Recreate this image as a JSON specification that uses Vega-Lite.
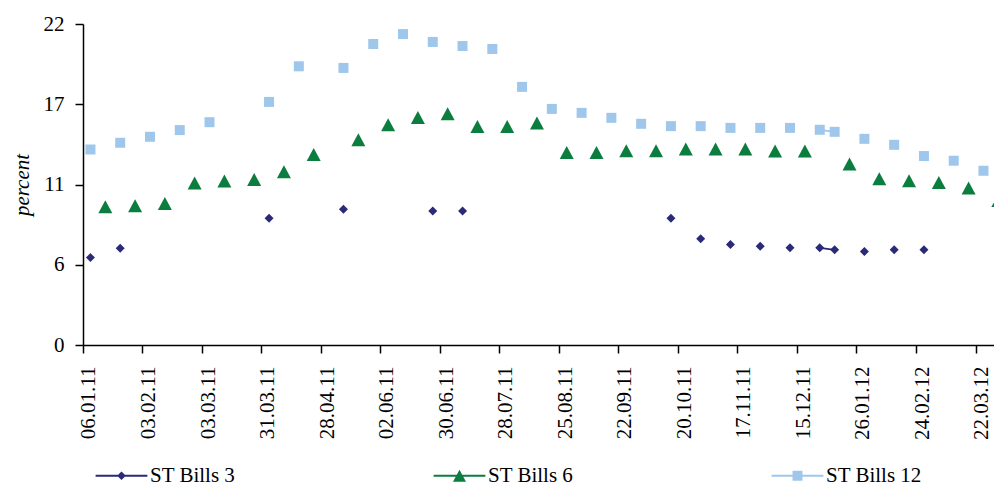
{
  "$schema": "https://vega.github.io/schema/vega-lite/v6.json",
  "width": 911,
  "height": 321,
  "autosize": {"type": "none"},
  "padding": {"left": 83, "top": 24, "right": 0, "bottom": 139},
  "background": "white",
  "config": {
    "view": {"stroke": null},
    "font": "Liberation Serif",
    "axis": {
      "grid": false,
      "domainColor": "black",
      "domainWidth": 1.5,
      "tickColor": "black",
      "tickWidth": 1.5,
      "tickSize": 8,
      "labelColor": "black",
      "labelFont": "Liberation Serif",
      "labelFontSize": 21,
      "labelOverlap": false,
      "labelBound": false,
      "labelFlush": false,
      "titleColor": "black",
      "titleFont": "Liberation Serif"
    }
  },
  "data": {
    "values": [
      {"date": "06.01.11", "ST Bills 3": 5.99, "ST Bills 12": 13.4},
      {"date": "13.01.11", "ST Bills 6": 9.47},
      {"date": "20.01.11", "ST Bills 3": 6.63, "ST Bills 12": 13.86},
      {"date": "27.01.11", "ST Bills 6": 9.55},
      {"date": "03.02.11", "ST Bills 12": 14.27},
      {"date": "10.02.11", "ST Bills 6": 9.69},
      {"date": "17.02.11", "ST Bills 12": 14.73},
      {"date": "24.02.11", "ST Bills 6": 11.1},
      {"date": "03.03.11", "ST Bills 12": 15.27},
      {"date": "10.03.11", "ST Bills 6": 11.24},
      {"date": "17.03.11"},
      {"date": "24.03.11", "ST Bills 6": 11.35},
      {"date": "31.03.11", "ST Bills 3": 8.69, "ST Bills 12": 16.66},
      {"date": "07.04.11", "ST Bills 6": 11.87},
      {"date": "14.04.11", "ST Bills 12": 19.1},
      {"date": "21.04.11", "ST Bills 6": 13.06},
      {"date": "28.04.11"},
      {"date": "12.05.11", "ST Bills 3": 9.3, "ST Bills 12": 18.99},
      {"date": "19.05.11", "ST Bills 6": 14.06},
      {"date": "26.05.11", "ST Bills 12": 20.63},
      {"date": "02.06.11", "ST Bills 6": 15.09},
      {"date": "09.06.11", "ST Bills 12": 21.31},
      {"date": "16.06.11", "ST Bills 6": 15.6},
      {"date": "23.06.11", "ST Bills 3": 9.19, "ST Bills 12": 20.77},
      {"date": "30.06.11", "ST Bills 6": 15.85},
      {"date": "07.07.11", "ST Bills 3": 9.19, "ST Bills 12": 20.49},
      {"date": "14.07.11", "ST Bills 6": 14.98},
      {"date": "21.07.11", "ST Bills 12": 20.29},
      {"date": "28.07.11", "ST Bills 6": 14.98},
      {"date": "04.08.11", "ST Bills 12": 17.69},
      {"date": "11.08.11", "ST Bills 6": 15.21},
      {"date": "18.08.11", "ST Bills 12": 16.18},
      {"date": "25.08.11", "ST Bills 6": 13.19},
      {"date": "01.09.11", "ST Bills 12": 15.91},
      {"date": "08.09.11", "ST Bills 6": 13.19},
      {"date": "15.09.11", "ST Bills 12": 15.57},
      {"date": "22.09.11", "ST Bills 6": 13.31},
      {"date": "29.09.11", "ST Bills 12": 15.16},
      {"date": "06.10.11", "ST Bills 6": 13.31},
      {"date": "13.10.11", "ST Bills 3": 8.69, "ST Bills 12": 15.0},
      {"date": "20.10.11", "ST Bills 6": 13.43},
      {"date": "27.10.11", "ST Bills 3": 7.29, "ST Bills 12": 15.0},
      {"date": "03.11.11", "ST Bills 6": 13.43},
      {"date": "10.11.11", "ST Bills 3": 6.88, "ST Bills 12": 14.88},
      {"date": "17.11.11", "ST Bills 6": 13.43},
      {"date": "24.11.11", "ST Bills 3": 6.77, "ST Bills 12": 14.88},
      {"date": "01.12.11", "ST Bills 6": 13.3},
      {"date": "08.12.11", "ST Bills 3": 6.66, "ST Bills 12": 14.88},
      {"date": "15.12.11", "ST Bills 6": 13.3},
      {"date": "22.12.11", "ST Bills 3": 6.66, "ST Bills 12": 14.75},
      {"date": "29.12.11", "ST Bills 3": 6.52, "ST Bills 12": 14.61},
      {"date": "12.01.12", "ST Bills 6": 12.41},
      {"date": "26.01.12", "ST Bills 3": 6.4, "ST Bills 12": 14.13},
      {"date": "02.02.12", "ST Bills 6": 11.39},
      {"date": "09.02.12", "ST Bills 3": 6.52, "ST Bills 12": 13.72},
      {"date": "16.02.12", "ST Bills 6": 11.26},
      {"date": "24.02.12", "ST Bills 3": 6.52, "ST Bills 12": 12.95},
      {"date": "01.03.12", "ST Bills 6": 11.14},
      {"date": "08.03.12", "ST Bills 12": 12.63},
      {"date": "15.03.12", "ST Bills 6": 10.76},
      {"date": "22.03.12", "ST Bills 12": 11.94},
      {"date": "29.03.12", "ST Bills 6": 9.9}
    ]
  },
  "transform": [
    {"fold": ["ST Bills 3", "ST Bills 6", "ST Bills 12"], "as": ["series", "rate"]}
  ],
  "encoding": {
    "x": {
      "field": "date",
      "type": "ordinal",
      "sort": null,
      "scale": {
        "type": "band",
        "paddingInner": 0,
        "paddingOuter": 0,
        "range": [0, 922.8],
        "domain": [
          "06.01.11", "13.01.11", "20.01.11", "27.01.11", "03.02.11", "10.02.11", "17.02.11", "24.02.11",
          "03.03.11", "10.03.11", "17.03.11", "24.03.11", "31.03.11", "07.04.11", "14.04.11", "21.04.11",
          "28.04.11", "12.05.11", "19.05.11", "26.05.11", "02.06.11", "09.06.11", "16.06.11", "23.06.11",
          "30.06.11", "07.07.11", "14.07.11", "21.07.11", "28.07.11", "04.08.11", "11.08.11", "18.08.11",
          "25.08.11", "01.09.11", "08.09.11", "15.09.11", "22.09.11", "29.09.11", "06.10.11", "13.10.11",
          "20.10.11", "27.10.11", "03.11.11", "10.11.11", "17.11.11", "24.11.11", "01.12.11", "08.12.11",
          "15.12.11", "22.12.11", "29.12.11", "12.01.12", "26.01.12", "02.02.12", "09.02.12", "16.02.12",
          "24.02.12", "01.03.12", "08.03.12", "15.03.12", "22.03.12", "29.03.12"
        ]
      },
      "axis": {
        "title": null,
        "values": [
          "06.01.11", "03.02.11", "03.03.11", "31.03.11", "28.04.11", "02.06.11", "30.06.11", "28.07.11",
          "25.08.11", "22.09.11", "20.10.11", "17.11.11", "15.12.11", "26.01.12", "24.02.12", "22.03.12"
        ],
        "bandPosition": 0,
        "labelAngle": -90,
        "labelPadding": 13,
        "labelOffset": -1
      }
    },
    "y": {
      "field": "rate",
      "type": "quantitative",
      "scale": {"domain": [0, 22], "nice": false, "zero": true},
      "axis": {
        "title": "percent",
        "values": [0, 5.5, 11, 16.5, 22],
        "format": ".0f",
        "labelPadding": 11,
        "titleFontSize": 21,
        "titleFontStyle": "italic",
        "titleFontWeight": "normal",
        "titlePadding": 11
      }
    },
    "color": {
      "field": "series",
      "type": "nominal",
      "scale": {
        "domain": ["ST Bills 3", "ST Bills 6", "ST Bills 12"],
        "range": ["#2a2a78", "#0b7d3e", "#9ec7eb"]
      },
      "legend": {
        "orient": "none",
        "legendX": 28,
        "legendY": 441,
        "direction": "horizontal",
        "title": null,
        "padding": 0,
        "symbolSize": 196,
        "labelFont": "Liberation Serif",
        "labelFontSize": 21,
        "labelColor": "black",
        "labelOffset": 18,
        "columnPadding": 197,
        "encode": {
          "symbols": {
            "update": {
              "shape": {"signal": "datum.value === 'ST Bills 3' ? 'M-3.7,-0.13H3.7V0.13H-3.7Z M-0.62,0L0,-0.62L0.62,0L0,0.62Z' : datum.value === 'ST Bills 6' ? 'M-3.7,-0.13H3.7V0.13H-3.7Z M0,-0.86L0.93,0.86L-0.93,0.86Z' : 'M-3.7,-0.13H3.7V0.13H-3.7Z M-0.71,-0.71H0.71V0.71H-0.71Z'"},
              "strokeWidth": {"value": 0},
              "opacity": {"value": 1}
            }
          }
        }
      }
    }
  },
  "layer": [
    {
      "mark": {"type": "line", "strokeWidth": 1.8, "clip": true, "invalid": "break-paths-filter-domains"}
    },
    {
      "transform": [{"filter": "datum.series === 'ST Bills 3' && isValid(datum.rate)"}],
      "mark": {"type": "point", "filled": true, "opacity": 1, "size": 100, "strokeWidth": 0, "clip": true, "shape": "M-0.9,0L0,-0.9L0.9,0L0,0.9Z"}
    },
    {
      "transform": [{"filter": "datum.series === 'ST Bills 6' && isValid(datum.rate)"}],
      "mark": {"type": "point", "filled": true, "opacity": 1, "size": 100, "strokeWidth": 0, "clip": true, "shape": "M0,-1.3L1.4,1.3L-1.4,1.3Z"}
    },
    {
      "transform": [{"filter": "datum.series === 'ST Bills 12' && isValid(datum.rate)"}],
      "mark": {"type": "point", "filled": true, "opacity": 1, "size": 100, "strokeWidth": 0, "clip": true, "shape": "M-1,-1H1V1H-1Z"}
    }
  ]
}
